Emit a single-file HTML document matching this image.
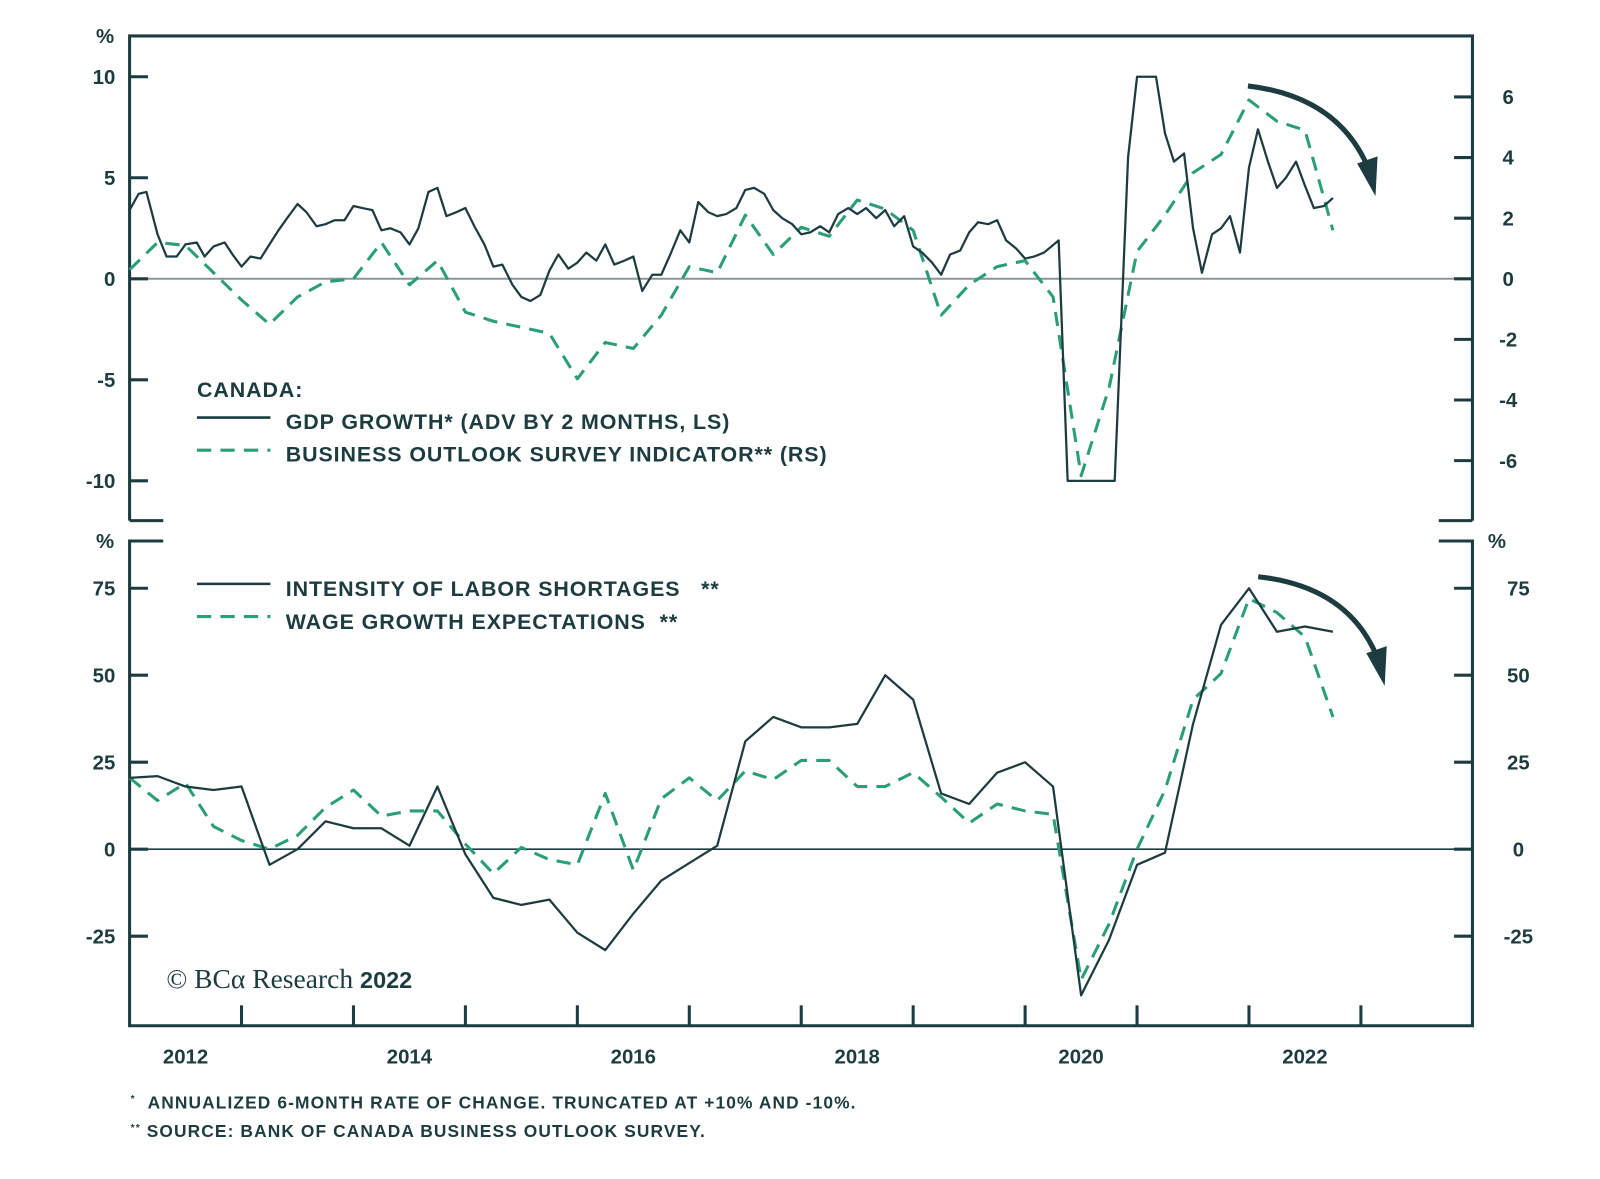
<!DOCTYPE html>
<html><head><meta charset="utf-8"><style>
html,body{margin:0;padding:0;background:#fff;}
svg{display:block;font-family:"Liberation Sans",sans-serif;}
.t{font-weight:bold;font-size:20px;fill:#1d3c40;}
.lg{font-size:21px;font-weight:bold;fill:#1d3c40;letter-spacing:0.9px;}
.fn{font-size:17px;font-weight:bold;fill:#1d3c40;letter-spacing:1.1px;}
</style></head><body>
<svg id="c" width="1600" height="1179" viewBox="0 0 1568 1155">
<g id="frame" stroke="#1d3c40" stroke-width="3" fill="none">
<path d="M127,510 V35 H1443 V510 M127,510 H160 M1410,510 H1443"/>
<path d="M160,530 H127 V1005 H1443 V530 H1410"/>
</g>
<line x1="127" y1="273" x2="1443" y2="273" stroke="#8a9599" stroke-width="2"/>
<line x1="127" y1="832" x2="1443" y2="832" stroke="#1d3c40" stroke-width="1.5"/>
<g id="axes"></g>
<g id="series"></g>
<text class="t" x="103" y="42" text-anchor="middle">%</text>
<text class="t" x="103" y="537" text-anchor="middle">%</text>
<text class="t" x="1467" y="537" text-anchor="middle">%</text>
<g>
<text class="lg" x="193" y="389">CANADA:</text>
<line x1="193" y1="409" x2="265" y2="409" stroke="#1d3c40" stroke-width="2.5"/>
<text class="lg" x="280" y="420">GDP GROWTH* (ADV BY 2 MONTHS, LS)</text>
<line x1="193" y1="441" x2="265" y2="441" stroke="#2a9e76" stroke-width="3" stroke-dasharray="14 9"/>
<text class="lg" x="280" y="452">BUSINESS OUTLOOK SURVEY INDICATOR** (RS)</text>
</g>
<g>
<line x1="193" y1="572" x2="265" y2="572" stroke="#1d3c40" stroke-width="2.5"/>
<text class="lg" x="280" y="584">INTENSITY OF LABOR SHORTAGES &#160;&#160;**</text>
<line x1="193" y1="604" x2="265" y2="604" stroke="#2a9e76" stroke-width="3" stroke-dasharray="14 9"/>
<text class="lg" x="280" y="616">WAGE GROWTH EXPECTATIONS &#160;**</text>
</g>
<text x="163" y="968" font-family="Liberation Serif,serif" font-size="27" fill="#1d3c40">© BCα Research <tspan font-family="Liberation Sans,sans-serif" font-weight="bold" font-size="23">2022</tspan></text>
<g fill="none" stroke="#1d3c40" stroke-width="5">
<path d="M1223,84 Q1315,95 1343,170"/>
<path d="M1233,565 Q1325,575 1352,650"/>
</g>
<polygon points="1330,160 1350,153 1348,192" fill="#1d3c40"/>
<polygon points="1339,640 1359,633 1357,672" fill="#1d3c40"/>
<text class="fn" x="128" y="1086"><tspan font-size="10" dy="-6">*</tspan><tspan dy="6"> &#160;ANNUALIZED 6-MONTH RATE OF CHANGE. TRUNCATED AT +10% AND -10%.</tspan></text>
<text class="fn" x="128" y="1114"><tspan font-size="10" dy="-6">**</tspan><tspan dy="6"> SOURCE: BANK OF CANADA BUSINESS OUTLOOK SURVEY.</tspan></text>
</svg>
<script>
const yearLabels = ["2012","2014","2016","2018","2020","2022"];
const leftTopTicks = [10,5,0,-5,-10];
const rightTopTicks = [6,4,2,0,-2,-4,-6];
const bottomTicks = [75,50,25,0,-25];
const quarters = [2012,2012.25,2012.5,2012.75,2013,2013.25,2013.5,2013.75,2014,2014.25,2014.5,2014.75,2015,2015.25,2015.5,2015.75,2016,2016.25,2016.5,2016.75,2017,2017.25,2017.5,2017.75,2018,2018.25,2018.5,2018.75,2019,2019.25,2019.5,2019.75,2020,2020.25,2020.5,2020.75,2021,2021.25,2021.5,2021.75,2022,2022.25,2022.5,2022.75];
const gdpDates = [2012,2012.08,2012.15,2012.25,2012.33,2012.42,2012.5,2012.6,2012.67,2012.75,2012.85,2012.92,2013,2013.08,2013.17,2013.25,2013.33,2013.42,2013.5,2013.58,2013.67,2013.75,2013.83,2013.92,2014,2014.08,2014.17,2014.25,2014.33,2014.42,2014.5,2014.58,2014.67,2014.75,2014.83,2014.92,2015,2015.08,2015.17,2015.25,2015.33,2015.42,2015.5,2015.58,2015.67,2015.75,2015.83,2015.92,2016,2016.08,2016.17,2016.25,2016.33,2016.42,2016.5,2016.58,2016.67,2016.75,2016.83,2016.92,2017,2017.08,2017.17,2017.25,2017.33,2017.42,2017.5,2017.58,2017.67,2017.75,2017.83,2017.92,2018,2018.08,2018.17,2018.25,2018.33,2018.42,2018.5,2018.58,2018.67,2018.75,2018.83,2018.92,2019,2019.08,2019.17,2019.25,2019.33,2019.42,2019.5,2019.58,2019.67,2019.75,2019.83,2019.92,2020,2020.08,2020.17,2020.3,2020.38,2020.5,2020.8,2020.92,2021,2021.17,2021.25,2021.33,2021.42,2021.5,2021.58,2021.67,2021.75,2021.83,2021.92,2022,2022.08,2022.17,2022.25,2022.33,2022.42,2022.5,2022.58,2022.67,2022.75];
const gdpVals = [3.4,4.2,4.3,2.2,1.1,1.1,1.7,1.8,1.1,1.6,1.8,1.2,0.6,1.1,1.0,1.7,2.4,3.1,3.7,3.3,2.6,2.7,2.9,2.9,3.6,3.5,3.4,2.4,2.5,2.3,1.7,2.5,4.3,4.5,3.1,3.3,3.5,2.6,1.7,0.6,0.7,-0.3,-0.9,-1.1,-0.8,0.4,1.2,0.5,0.8,1.3,0.9,1.7,0.7,0.9,1.1,-0.6,0.2,0.2,1.2,2.4,1.8,3.8,3.3,3.1,3.2,3.5,4.4,4.5,4.2,3.4,3.0,2.7,2.2,2.3,2.6,2.3,3.2,3.5,3.2,3.5,3.0,3.4,2.6,3.1,1.6,1.3,0.8,0.2,1.2,1.4,2.3,2.8,2.7,2.9,1.9,1.5,1.0,1.1,1.3,1.9,-10,-10,-10,6,10,10,7.2,5.8,6.2,2.5,0.3,2.2,2.5,3.1,1.3,5.5,7.4,5.8,4.5,5.0,5.8,4.6,3.5,3.6,4.0];
const bosVals = [0.3,1.2,1.1,0.2,-0.7,-1.5,-0.6,-0.1,0,1.2,-0.2,0.6,-1.1,-1.4,-1.6,-1.8,-3.3,-2.1,-2.3,-1.2,0.4,0.2,2.1,0.8,1.7,1.4,2.6,2.3,1.6,-1.2,-0.2,0.4,0.6,-0.6,-6.5,-3.6,0.9,2.1,3.5,4.1,5.9,5.2,4.9,1.6];
const laborVals = [20.5,21,18,17,18,-4.5,0,8,6,6,1,18,-1.5,-14,-16,-14.5,-24,-29,-18.5,-9,-4,1,31,38,35,35,36,50,43,16,13,22,25,18,-42,-26,-4.5,-1,36,64.5,75,62.5,64,62.5];
const wageVals = [20.5,14,19,6.5,2.5,0,4,12,17,9.5,11,11,1.5,-7,0.5,-3,-4.5,16,-6,14.5,20.5,14,22.5,20,25.5,25.5,18,18,22,15,7.5,13,11,10,-37.5,-21.5,0,17,43,50.5,72,68,61,38];

const NS="http://www.w3.org/2000/svg";
const xS = t => 127 + (t-2012)*109.7;
const yTL = v => 273 - v*19.8;
const yTR = v => 273 - v*29.7;
const yB = v => 832 - v*3.41;
const axes=document.getElementById('axes'), series=document.getElementById('series');
function mk(tag, attrs, parent){const e=document.createElementNS(NS,tag);for(const k in attrs)e.setAttribute(k,attrs[k]);parent.appendChild(e);return e;}
function txt(x,y,s,anchor,name){const e=mk('text',{x:x,y:y,'text-anchor':anchor,'class':'t'},axes);e.textContent=s;

}
leftTopTicks.forEach(v=>{const y=yTL(v);const l=mk('line',{x1:127,x2:145,y1:y,y2:y,stroke:'#1d3c40','stroke-width':3},axes);


txt(113,y+7,String(v),'end','left-top-tick-label');});
rightTopTicks.forEach(v=>{const y=yTR(v);const l=mk('line',{x1:1425,x2:1443,y1:y,y2:y,stroke:'#1d3c40','stroke-width':3},axes);


txt(1478,y+7,String(v),'middle','right-top-tick-label');});
bottomTicks.forEach(v=>{const y=yB(v);
const a=mk('line',{x1:127,x2:145,y1:y,y2:y,stroke:'#1d3c40','stroke-width':3},axes);


const b=mk('line',{x1:1425,x2:1443,y1:y,y2:y,stroke:'#1d3c40','stroke-width':3},axes);


txt(113,y+7,String(v),'end','left-bottom-tick-label');
txt(1488,y+7,String(v),'middle','right-bottom-tick-label');});
for(let yr=2013; yr<=2023; yr++){const x=xS(yr);const l=mk('line',{x1:x,x2:x,y1:985,y2:1005,stroke:'#1d3c40','stroke-width':3},axes);

}
yearLabels.forEach(s=>{txt(xS(+s+0.5),1042,s,'middle','x-tick-label');});
function line(xs,ys,yf,color,dash,name,w){const d=xs.map((t,i)=>(i?'L':'M')+xS(t).toFixed(1)+','+yf(ys[i]).toFixed(1)).join('');
const p=mk('path',{d:d,fill:'none',stroke:color,'stroke-width':w,'stroke-linejoin':'round'},series);
if(dash)p.setAttribute('stroke-dasharray',dash);

}
line(quarters,bosVals,yTR,'#2a9e76','14 9','bos-indicator-line',3);
line(gdpDates,gdpVals,yTL,'#1d3c40',null,'gdp-growth-line',2.2);
line(quarters,wageVals,yB,'#2a9e76','14 9','wage-expectations-line',3);
line(quarters,laborVals,yB,'#1d3c40',null,'labor-shortages-line',2.2);
</script>
</body></html>
